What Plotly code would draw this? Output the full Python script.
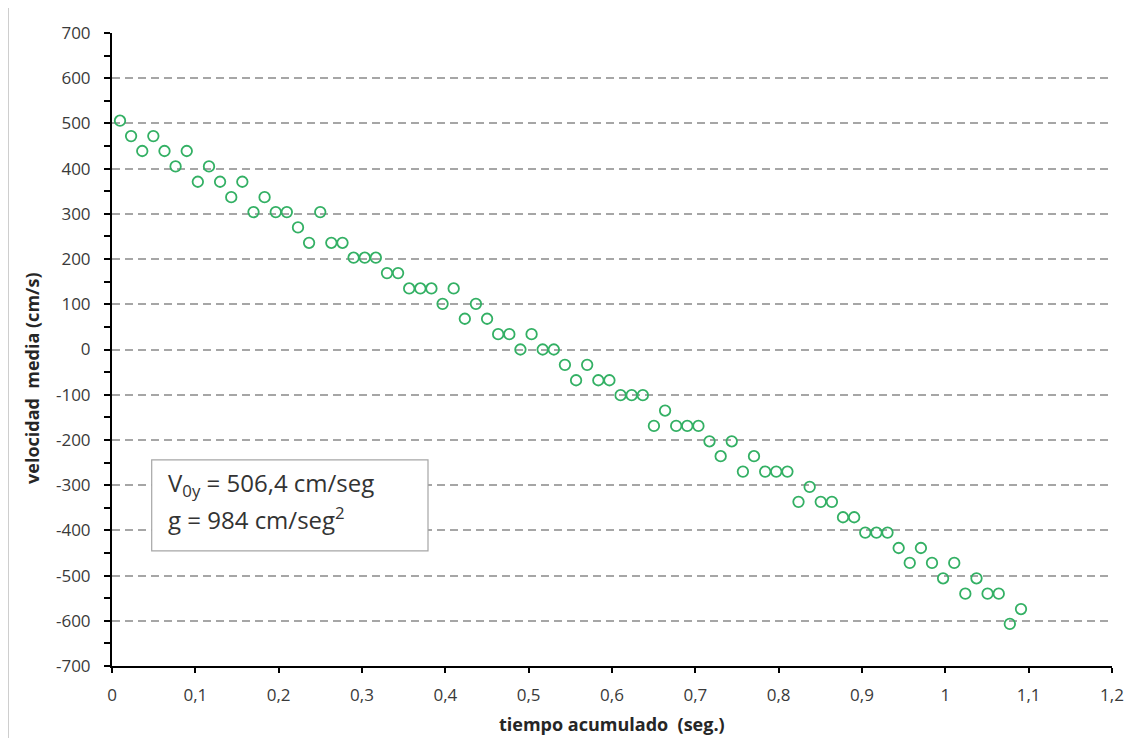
import plotly.graph_objects as go

# ---- data ----
tiempo = [0.0096, 0.0229, 0.0363, 0.0496, 0.0630, 0.0763, 0.0897, 0.1030, 0.1164, 0.1297,
          0.1431, 0.1564, 0.1698, 0.1831, 0.1965, 0.2098, 0.2232, 0.2365, 0.2499, 0.2632,
          0.2766, 0.2899, 0.3033, 0.3166, 0.3300, 0.3433, 0.3566, 0.3700, 0.3833, 0.3967,
          0.4100, 0.4234, 0.4367, 0.4501, 0.4634, 0.4768, 0.4901, 0.5035, 0.5168, 0.5302,
          0.5435, 0.5569, 0.5702, 0.5836, 0.5969, 0.6103, 0.6236, 0.6370, 0.6503, 0.6637,
          0.6770, 0.6903, 0.7037, 0.7170, 0.7304, 0.7437, 0.7571, 0.7704, 0.7838, 0.7971,
          0.8105, 0.8238, 0.8372, 0.8505, 0.8639, 0.8772, 0.8906, 0.9039, 0.9173, 0.9306,
          0.9440, 0.9573, 0.9707, 0.9840, 0.9973, 1.0107, 1.0240, 1.0374, 1.0507, 1.0641,
          1.0774, 1.0908]

velocidad = [506, 472, 439, 472, 439, 405, 439, 371, 405, 371,
             337, 371, 304, 337, 304, 304, 270, 236, 304, 236,
             236, 203, 203, 203, 169, 169, 135, 135, 135, 101,
             135, 68, 101, 68, 34, 34, 0, 34, 0, 0,
             -34, -68, -34, -68, -68, -101, -101, -101, -169, -135,
             -169, -169, -169, -203, -236, -203, -270, -236, -270, -270,
             -270, -337, -304, -337, -337, -371, -371, -405, -405, -405,
             -439, -472, -439, -472, -506, -472, -540, -506, -540, -540,
             -607, -574]

x_tick_vals = [0, 0.1, 0.2, 0.3, 0.4, 0.5, 0.6, 0.7, 0.8, 0.9, 1.0, 1.1, 1.2]
x_tick_text = ["0", "0,1", "0,2", "0,3", "0,4", "0,5", "0,6", "0,7", "0,8", "0,9", "1", "1,1", "1,2"]
y_tick_vals = [700, 600, 500, 400, 300, 200, 100, 0, -100, -200, -300, -400, -500, -600, -700]
y_tick_text = ["700", "600", "500", "400", "300", "200", "100", "0", "-100", "-200", "-300",
               "-400", "-500", "-600", "-700"]

FONT = "Open Sans"
GREEN = "#33B064"
TICK_COLOR = "#3A3A3A"

fig = go.Figure()
fig.add_trace(go.Scatter(
    x=tiempo, y=velocidad, mode="markers",
    marker=dict(symbol="circle-open", size=10.5, color=GREEN, line=dict(width=1.8, color=GREEN)),
    showlegend=False, hoverinfo="x+y",
))

# the page adds an 8px body margin, so the figure is sized/margined to compensate
fig.update_layout(
    width=1126, height=730,
    margin=dict(l=104, r=22, t=25, b=72, autoexpand=False),
    paper_bgcolor="white", plot_bgcolor="white",
    font=dict(family=FONT, size=16, color=TICK_COLOR),
    showlegend=False,
)

fig.update_xaxes(
    range=[0, 1.2], tickvals=x_tick_vals, ticktext=x_tick_text,
    showgrid=False, zeroline=False,
    showline=True, linecolor="black", linewidth=2,
    ticks="outside", ticklen=5, tickwidth=2, tickcolor="black",
    tickfont=dict(family=FONT, size=17, color=TICK_COLOR),
    ticklabelstandoff=8,
)

fig.update_yaxes(
    range=[-700, 700], tickvals=y_tick_vals, ticktext=y_tick_text,
    showgrid=True, gridcolor="#A6A6A6", gridwidth=1.5, griddash="8px,5px",
    zeroline=False,
    showline=True, linecolor="black", linewidth=2,
    ticks="outside", ticklen=6, tickwidth=2, tickcolor="black",
    minor=dict(ticks="outside", dtick=50, tick0=0, ticklen=6, tickwidth=2, tickcolor="black", showgrid=False),
    tickfont=dict(family=FONT, size=17, color=TICK_COLOR),
    ticklabelstandoff=10,
)

# axis titles
fig.add_annotation(
    text="<b>tiempo acumulado  (seg.)</b>", xref="paper", yref="paper",
    x=0.5, y=-0.092, xanchor="center", yanchor="middle", showarrow=False,
    font=dict(family=FONT, size=18, color="#262626"),
)
fig.add_annotation(
    text="<b>velocidad  media (cm/s)</b>", xref="paper", yref="paper",
    x=-0.08, y=0.455, xanchor="center", yanchor="middle", textangle=-90, showarrow=False,
    font=dict(family=FONT, size=18, color="#262626"),
)

# text box
fig.add_shape(
    type="rect", xref="paper", yref="paper",
    x0=0.0397, x1=0.316, y0=0.182, y1=0.3255,
    line=dict(color="#A6A6A6", width=1.2), fillcolor="white", layer="above",
)
fig.add_annotation(
    text="V<sub>0y</sub> = 506,4 cm/seg", xref="paper", yref="paper",
    x=0.054, y=0.2875, xanchor="left", yanchor="middle", showarrow=False,
    font=dict(family=FONT, size=24, color="#333333"),
)
fig.add_annotation(
    text="g = 984 cm/seg<sup>2</sup>", xref="paper", yref="paper",
    x=0.054, y=0.2338, xanchor="left", yanchor="middle", showarrow=False,
    font=dict(family=FONT, size=24, color="#333333"),
)

# outer chart frame (left/top edges visible)
fig.add_shape(
    type="rect", xref="paper", yref="paper",
    x0=-0.104, x1=1.04, y0=-0.14, y1=1.041,
    line=dict(color="#BFBFBF", width=1.5), fillcolor="rgba(0,0,0,0)", layer="below",
)

fig.write_html("out.html")
